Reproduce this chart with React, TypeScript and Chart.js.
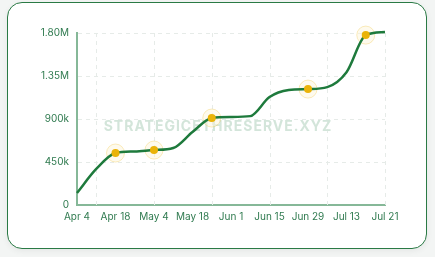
import React, { useEffect, useRef } from "react";
import { Chart, registerables } from "chart.js";

Chart.register(...registerables);

const tickLabels = ["Apr 4", "Apr 18", "May 4", "May 18", "Jun 1", "Jun 15", "Jun 29", "Jul 13", "Jul 21"];
const yTickLabels = ["0", "450k", "900k", "1.35M", "1.80M"];
const yTickValues = [0, 450000, 900000, 1350000, 1800000];
const gridX = [0.5, 2, 3.5, 5, 6.5, 8];

const lineX = [0, 0.5, 1, 1.5, 2, 2.5, 3, 3.5, 4, 4.5, 5, 5.5, 6, 6.5, 7, 7.5, 8];
const lineValues = [
  126000, 377000, 544000, 560000, 575000, 596000, 764000, 910000, 921000, 930000,
  1130000, 1203000, 1213000, 1234000, 1390000, 1778000, 1810000,
];

const markerX = [1, 2, 3.5, 6, 7.5];
const markerValues = [544000, 575000, 910000, 1213000, 1778000];

const TICK_COLOR = "#2f7a4f";

const bgPlugin = {
  id: "bgDecor",
  beforeDatasetsDraw(chart: any) {
    const { ctx, chartArea, scales } = chart;
    const x = scales.x;
    ctx.save();
    ctx.strokeStyle = "#e6ebe8";
    ctx.lineWidth = 1;
    ctx.setLineDash([4, 4]);
    gridX.forEach((g) => {
      const px = Math.round(x.getPixelForValue(g)) + 0.5;
      ctx.beginPath();
      ctx.moveTo(px, chartArea.top);
      ctx.lineTo(px, chartArea.bottom);
      ctx.stroke();
    });
    ctx.setLineDash([]);
    ctx.font = "bold 14px Inter";
    (ctx as any).letterSpacing = "1px";
    ctx.fillStyle = "#d3e5da";
    ctx.textAlign = "center";
    ctx.textBaseline = "middle";
    ctx.fillText("STRATEGICETHRESERVE.XYZ", 218, 127);
    ctx.restore();
  },
};

function LineChart() {
  const ref = useRef<HTMLCanvasElement | null>(null);
  useEffect(() => {
    if (!ref.current) return;
    const chart = new Chart(ref.current, {
      type: "line",
      data: {
        datasets: [
          {
            data: markerX.map((x, i) => ({ x, y: markerValues[i] })),
            showLine: false,
            pointRadius: 4,
            pointBackgroundColor: "#eab308",
            pointBorderWidth: 0,
            clip: false,
            order: 0,
          } as any,
          {
            data: lineX.map((x, i) => ({ x, y: lineValues[i] })),
            borderColor: "#1e7a3c",
            borderWidth: 2.5,
            pointRadius: 0,
            fill: false,
            cubicInterpolationMode: "monotone",
            clip: false,
            order: 1,
          } as any,
          {
            data: markerX.map((x, i) => ({ x, y: markerValues[i] })),
            showLine: false,
            pointRadius: 9,
            pointBackgroundColor: "rgba(253, 244, 215, 0.45)",
            pointBorderColor: "rgba(234, 179, 8, 0.25)",
            pointBorderWidth: 1,
            clip: false,
            order: 2,
          } as any,
        ],
      },
      options: {
        animation: false,
        responsive: false,
        maintainAspectRatio: false,
        layout: { padding: { left: 0, right: 50, top: 33, bottom: 22 } },
        plugins: { legend: { display: false }, tooltip: { enabled: false } },
        scales: {
          x: {
            type: "linear",
            min: 0,
            max: 8,
            afterBuildTicks: (scale: any) => {
              scale.ticks = tickLabels.map((_, i) => ({ value: i }));
            },
            afterFit: (scale: any) => {
              scale.height = 30;
            },
            grid: { display: false, drawTicks: false },
            border: { display: true, color: "#86b898", width: 2 },
            ticks: {
              autoSkip: false,
              maxRotation: 0,
              padding: 6,
              color: TICK_COLOR,
              font: { family: "Inter", size: 10 },
              callback: (v: any) => tickLabels[Math.round(Number(v))] ?? "",
            },
          },
          y: {
            min: 0,
            max: 1800000,
            afterBuildTicks: (scale: any) => {
              scale.ticks = yTickValues.map((v) => ({ value: v }));
            },
            afterFit: (scale: any) => {
              scale.width = 77;
            },
            grid: {
              color: (c: any) => (c.tick && c.tick.value === 0 ? "rgba(0,0,0,0)" : "#e6ebe8"),
              drawTicks: false,
              lineWidth: 1,
            } as any,
            border: { display: true, color: "#86b898", width: 2, dash: [4, 4] } as any,
            ticks: {
              padding: 8,
              color: TICK_COLOR,
              font: { family: "Inter", size: 10 },
              callback: (v: any) => {
                const i = yTickValues.indexOf(Number(v));
                return i >= 0 ? yTickLabels[i] : "";
              },
            },
          },
        },
      },
      plugins: [bgPlugin],
    });
    return () => chart.destroy();
  }, []);
  return <canvas ref={ref} width={435} height={257} style={{ position: "absolute", left: 0, top: 0, width: 435, height: 257 }} />;
}

export default function App() {
  useEffect(() => {
    document.body.style.margin = "0";
    document.body.style.background = "#f3f5f4";
  }, []);
  return (
    <div style={{ position: "relative", width: 435, height: 257, overflow: "hidden", background: "#f3f5f4" }}>
      <div
        style={{
          position: "absolute",
          left: 7,
          top: 2,
          width: 420,
          height: 247,
          boxSizing: "border-box",
          border: "1.5px solid #2a7a45",
          borderRadius: 15,
          background: "#ffffff",
          boxShadow: "0 2px 6px rgba(0,0,0,0.06)",
        }}
      />
      <LineChart />
    </div>
  );
}
